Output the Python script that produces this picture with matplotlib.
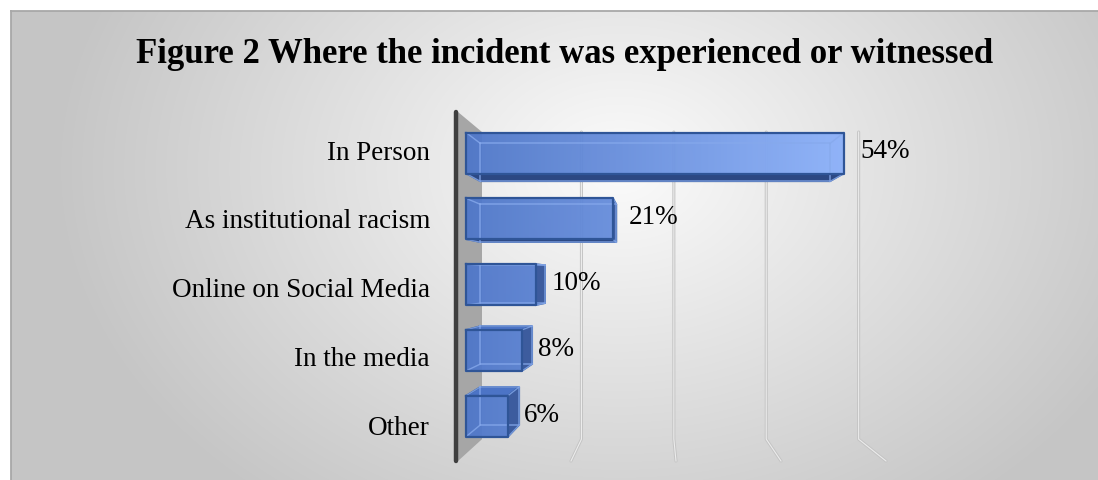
import numpy as np
import matplotlib
matplotlib.use("Agg")
import matplotlib.pyplot as plt
from matplotlib.patches import Polygon
from matplotlib.colors import LinearSegmentedColormap

# ---------------- data ----------------
categories = ["In Person", "As institutional racism", "Online on Social Media",
              "In the media", "Other"]
values = [54, 21, 10, 8, 6]
value_labels = ["54%", "21%", "10%", "8%", "6%"]
gridline_values = [15, 30, 45, 60]
title = "Figure 2 Where the incident was experienced or witnessed"

# ---------------- style ----------------
plt.rcParams['font.family'] = ['Liberation Serif', 'DejaVu Serif']
W, H = 1098, 481
fig = plt.figure(figsize=(W / 100, H / 100), dpi=100)

# background (pixel coordinates, y down)
bg = fig.add_axes([0, 0, 1, 1], zorder=0)
bg.axis('off')
yy, xx = np.mgrid[0:H, 0:W] + 0.5
r = np.sqrt(((xx - 620) / 560.0) ** 2 + ((yy - 170) / 420.0) ** 2)
r = np.clip(r, 0, 1)
g = 0.985 - (0.985 - 0.776) * r
img = np.dstack([g, g, g])
img[:12, :] = 1.0
img[:, :11] = 1.0
bg.imshow(img, extent=(0, W, H, 0), interpolation='bilinear', aspect='auto')
bg.set_xlim(0, W)
bg.set_ylim(H, 0)
bg.plot([11, W], [12, 12], color='#a8a8a8', lw=1.3)
bg.plot([11, 11], [12, H], color='#a8a8a8', lw=1.3)

bg.text(564.5, 63, title, ha='center', va='baseline', fontsize=25,
        fontweight='bold', color='black')

# main axes (front plane)
PX_LEFT, PX_RIGHT = 466, 886
PX_TOP, PX_BOT = 113, 462
BAR_C0, BAR_STEP = 154.0, 65.8
LAB_C0, LAB_STEP = 150.0, 68.75
ax = fig.add_axes([PX_LEFT / W, 1 - PX_BOT / H, (PX_RIGHT - PX_LEFT) / W,
                   (PX_BOT - PX_TOP) / H], zorder=1)
ax.patch.set_visible(False)
ax.set_xlim(0, 60)
y_top = (PX_TOP - BAR_C0) / BAR_STEP
y_bot = (PX_BOT - BAR_C0) / BAR_STEP
ax.set_ylim(y_bot, y_top)
for sp in ax.spines.values():
    sp.set_visible(False)
ax.set_xticks([])

ypos = np.arange(len(categories))
bar_h = 41.0 / BAR_STEP
bars = ax.barh(ypos, values, height=bar_h, color='none', edgecolor='none')

lab_pos = (LAB_C0 + LAB_STEP * ypos - BAR_C0) / BAR_STEP
ax.set_yticks(lab_pos, categories)
ax.tick_params(axis='y', length=0, pad=26, labelsize=19.5)


def to_px(x, y):
    d = ax.transData.transform((x, y))
    return d[0], H - d[1]


VP = np.array([658.0, 280.0])


def back(p, s):
    p = np.asarray(p, dtype=float)
    return VP + s * (p - VP)


# wall + gridlines (decoration in pixel space)
S_WALL = 0.88
wall_x = PX_LEFT - 8
wt = back((wall_x, PX_TOP), S_WALL)
wb = back((wall_x, PX_BOT), S_WALL)
bg.add_patch(Polygon([(wall_x, PX_TOP), wt, wb, (wall_x, PX_BOT)],
                     closed=True, facecolor='#a6a6a6', edgecolor='none', zorder=2))
bg.plot([wall_x - 2.5, wall_x - 2.5], [PX_TOP, PX_BOT], color='#3f3f3f', lw=3.2,
        solid_capstyle='round', zorder=3)

for gv in gridline_values:
    fx, _ = to_px(gv, 0)
    bt = back((fx, PX_TOP), S_WALL)
    bb = back((fx, PX_BOT), S_WALL)
    xs = [bt[0], bb[0], fx]
    ys = [bt[1], bb[1], PX_BOT]
    bg.plot(xs, ys, color='#c4c4c4', lw=2.2, zorder=1.5, solid_capstyle='round')
    bg.plot(xs, ys, color='#ececec', lw=0.8, zorder=1.6)

# bars in 3D style
cmap = LinearSegmentedColormap.from_list('bar', ['#4f77c9', '#8eb3fb'])
S_BAR = 0.925
tr = bg.transData
for i, (b, v, lbl) in enumerate(zip(bars, values, value_labels)):
    x0 = b.get_x(); x1 = x0 + b.get_width()
    yb0 = b.get_y(); yb1 = yb0 + b.get_height()
    L, T = to_px(x0, yb0)
    R, B = to_px(x1, yb1)
    Lb, Tb = back((L, T), S_BAR)
    Rb, Bb = back((R, B), S_BAR)
    # visible side faces
    if B < VP[1]:
        ax.add_patch(Polygon([(L, B), (R, B), (Rb, Bb), (Lb, Bb)], closed=True,
                             transform=tr, facecolor='#2c4883', edgecolor='#2a4a86',
                             lw=1.0, zorder=2, clip_on=False))
    if T > VP[1]:
        ax.add_patch(Polygon([(L, T), (R, T), (Rb, Tb), (Lb, Tb)], closed=True,
                             transform=tr, facecolor='#4c74c6', edgecolor='#2f5597',
                             lw=1.2, zorder=2, clip_on=False))
    if R < VP[0]:
        ax.add_patch(Polygon([(R, T), (Rb, Tb), (Rb, Bb), (R, B)], closed=True,
                             transform=tr, facecolor='#3d5c9e', edgecolor='#2f5597',
                             lw=1.2, zorder=2, clip_on=False))
    # front face gradient
    im = ax.imshow(np.linspace(0, 1, 256)[None, :], cmap=cmap, aspect='auto',
                   extent=(0, 56, y_bot, y_top), zorder=3, alpha=0.95,
                   interpolation='bilinear')
    im.set_clip_path(b)
    # back edges seen through the transparent bar
    edge_c = '#86a9ec'
    ax.plot([Lb, Rb, Rb, Lb, Lb], [Tb, Tb, Bb, Bb, Tb], transform=tr,
            color=edge_c, lw=1.1, alpha=0.8, zorder=4, clip_on=False)
    for (fxp, fyp), (bxp, byp) in [((L, T), (Lb, Tb)), ((R, T), (Rb, Tb)),
                                   ((R, B), (Rb, Bb)), ((L, B), (Lb, Bb))]:
        ax.plot([fxp, bxp], [fyp, byp], transform=tr, color=edge_c, lw=1.0,
                alpha=0.8, zorder=4, clip_on=False)
    # front outline
    ax.plot([L, R, R, L, L], [T, T, B, B, T], transform=tr, color='#2f5597',
            lw=1.6, zorder=5, clip_on=False)
    ax.annotate(lbl, xy=(x1, ypos[i]), xytext=(11.5, 1.5), textcoords='offset points',
                ha='left', va='center', fontsize=19.5, color='black', zorder=6)

ax.set_xlim(0, 60)
ax.set_ylim(y_bot, y_top)
fig.savefig('out.png', dpi=100)
